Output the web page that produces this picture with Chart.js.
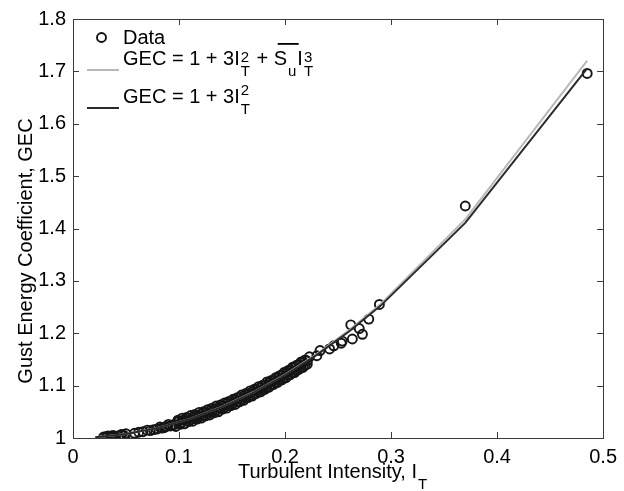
<!DOCTYPE html>
<html>
<head>
<meta charset="utf-8">
<script src="https://cdn.jsdelivr.net/npm/chart.js@4/dist/chart.umd.min.js"></script>
<style>
  html, body { margin: 0; padding: 0; background: #fff; }
  #wrap { width: 624px; height: 491px; position: relative; }
</style>
</head>
<body>
<div id="wrap"><canvas id="gecChart"></canvas></div>
<script>
// =====================
// DATA
// =====================
const dataX = [
  0.029, 0.031, 0.033, 0.035, 0.038, 0.043, 0.046, 0.048, 0.050, 0.058,
  0.066, 0.073, 0.079, 0.084, 0.088, 0.092, 0.096, 0.099, 0.102, 0.104,
  0.107, 0.109, 0.111, 0.113, 0.115, 0.117, 0.119, 0.121, 0.123, 0.125,
  0.127, 0.129, 0.131, 0.133, 0.135, 0.137, 0.139, 0.141, 0.143, 0.145,
  0.147, 0.149, 0.151, 0.153, 0.155, 0.157, 0.159, 0.161, 0.163, 0.165,
  0.167, 0.169, 0.171, 0.173, 0.175, 0.177, 0.179, 0.181, 0.183, 0.185,
  0.187, 0.189, 0.191, 0.193, 0.195, 0.197, 0.199, 0.201, 0.203, 0.205,
  0.207, 0.209, 0.211, 0.213, 0.215, 0.217, 0.219, 0.221,
  0.230, 0.233, 0.242, 0.246, 0.253, 0.254, 0.262, 0.2635, 0.270, 0.273,
  0.279, 0.289, 0.370, 0.485,
  // second pass through the dense band
  0.032, 0.036, 0.040, 0.045, 0.062, 0.070, 0.076, 0.082, 0.086, 0.090, 0.094,
  0.097, 0.099, 0.101, 0.103, 0.105, 0.107, 0.109, 0.111, 0.113, 0.115,
  0.117, 0.119, 0.121, 0.123, 0.125, 0.127, 0.129, 0.131, 0.133, 0.135,
  0.137, 0.139, 0.141, 0.143, 0.145, 0.147, 0.149, 0.151, 0.153, 0.155,
  0.157, 0.159, 0.161, 0.163, 0.165, 0.167, 0.169, 0.171, 0.173, 0.175,
  0.177, 0.179, 0.181, 0.183, 0.185, 0.187, 0.189, 0.191, 0.193, 0.195,
  0.197, 0.199, 0.201, 0.203, 0.205, 0.207, 0.209, 0.211, 0.213, 0.215,
  0.217, 0.219, 0.221, 0.223
];
const dataY = [
  1.002, 1.001, 1.004, 1.002, 1.005, 1.004, 1.007, 1.005, 1.008, 1.009,
  1.012, 1.014, 1.017, 1.019, 1.022, 1.023, 1.026, 1.031, 1.029, 1.034,
  1.033, 1.038, 1.035, 1.040, 1.038, 1.043, 1.041, 1.046, 1.043, 1.049,
  1.046, 1.052, 1.050, 1.055, 1.052, 1.058, 1.056, 1.062, 1.059, 1.066,
  1.063, 1.069, 1.066, 1.073, 1.069, 1.077, 1.073, 1.080, 1.077, 1.084,
  1.081, 1.088, 1.085, 1.092, 1.089, 1.097, 1.093, 1.101, 1.097, 1.106,
  1.102, 1.110, 1.106, 1.115, 1.111, 1.120, 1.115, 1.125, 1.120, 1.130,
  1.125, 1.135, 1.129, 1.140, 1.134, 1.145, 1.139, 1.147,
  1.157, 1.167, 1.170, 1.176, 1.181, 1.185, 1.216, 1.189, 1.209, 1.198,
  1.227, 1.255, 1.443, 1.696,
  1.003, 1.004, 1.003, 1.006, 1.011, 1.015, 1.016, 1.021, 1.020, 1.026, 1.025,
  1.022, 1.034, 1.026, 1.038, 1.027, 1.039, 1.031, 1.043, 1.032, 1.045,
  1.036, 1.049, 1.038, 1.050, 1.042, 1.054, 1.044, 1.057, 1.048, 1.061,
  1.050, 1.063, 1.055, 1.067, 1.057, 1.070, 1.062, 1.074, 1.064, 1.077,
  1.069, 1.082, 1.072, 1.085, 1.077, 1.090, 1.080, 1.093, 1.085, 1.098,
  1.088, 1.101, 1.093, 1.107, 1.097, 1.110, 1.102, 1.115, 1.106, 1.119,
  1.111, 1.125, 1.115, 1.129, 1.121, 1.135, 1.125, 1.139, 1.131, 1.145,
  1.135, 1.149, 1.141, 1.155
];

// fitted curves (vertices)
const fitX = [0.021, 0.05, 0.08, 0.11, 0.14, 0.17, 0.20, 0.23, 0.26, 0.29, 0.37, 0.485];
const fitCubicY = [1.0013, 1.0075, 1.0193, 1.0365, 1.0592, 1.0873, 1.121, 1.1603, 1.2051, 1.2555, 1.4173, 1.7205];
const fitSquareY = [1.0013, 1.0075, 1.0192, 1.0363, 1.0588, 1.0867, 1.120, 1.1587, 1.2028, 1.2523, 1.4107, 1.7057];

const xTicks = [0, 0.1, 0.2, 0.3, 0.4, 0.5];
const yTicks = [1, 1.1, 1.2, 1.3, 1.4, 1.5, 1.6, 1.7, 1.8];

const FONT = "'Liberation Sans', Arial, Helvetica, sans-serif";

function toPoints(xs, ys) {
  return xs.map((v, i) => ({ x: v, y: ys[i] }));
}

// =====================
// TEXT HELPERS (sub / superscripts)
// =====================
function drawRuns(ctx, x, y, runs) {
  let cx = x;
  runs.forEach(r => {
    if (r.t !== undefined) {
      ctx.font = "20px " + FONT;
      const w = ctx.measureText(r.t).width;
      ctx.fillText(r.t, cx, y);
      if (r.over) {
        ctx.fillRect(cx + 4, y - 22, r.overW || w, 1.8);
      }
      cx += w;
    } else {
      ctx.font = "15px " + FONT;
      let w = 0;
      if (r.sup) {
        ctx.fillText(r.sup, cx + 1, y - (r.supUp || 3));
        w = Math.max(w, ctx.measureText(r.sup).width);
      }
      if (r.sub) {
        ctx.fillText(r.sub, cx + 1, y + 11);
        w = Math.max(w, ctx.measureText(r.sub).width);
      }
      cx += w + 2;
    }
  });
  return cx;
}

// =====================
// DECOR PLUGIN: box, inward ticks, legend, titles
// =====================
const decorPlugin = {
  id: "decor",
  afterDraw(chart) {
    const { ctx, chartArea: a, scales } = chart;
    const sx = scales.x, sy = scales.y;
    ctx.save();

    // axes box
    ctx.strokeStyle = "#3a3a3a";
    ctx.lineWidth = 1;
    ctx.strokeRect(Math.round(a.left) + 0.5, Math.round(a.top) + 0.5,
      Math.round(a.right - a.left), Math.round(a.bottom - a.top));

    // inward ticks on all four sides
    const tl = 6;
    ctx.beginPath();
    xTicks.forEach(v => {
      const px = Math.round(sx.getPixelForValue(v)) + 0.5;
      ctx.moveTo(px, a.bottom); ctx.lineTo(px, a.bottom - tl);
      ctx.moveTo(px, a.top); ctx.lineTo(px, a.top + tl);
    });
    yTicks.forEach(v => {
      const py = Math.round(sy.getPixelForValue(v)) + 0.5;
      ctx.moveTo(a.left, py); ctx.lineTo(a.left + tl, py);
      ctx.moveTo(a.right, py); ctx.lineTo(a.right - tl, py);
    });
    ctx.stroke();

    ctx.fillStyle = "#000";
    ctx.textAlign = "left";
    ctx.textBaseline = "alphabetic";

    // legend
    ctx.lineWidth = 1.9;
    ctx.strokeStyle = "#111";
    ctx.beginPath();
    ctx.arc(101.5, 37.5, 4.5, 0, Math.PI * 2);
    ctx.stroke();

    ctx.lineWidth = 2;
    ctx.strokeStyle = "#b8b8b8";
    ctx.beginPath(); ctx.moveTo(87, 70); ctx.lineTo(119, 70); ctx.stroke();
    ctx.strokeStyle = "#2b2b2b";
    ctx.beginPath(); ctx.moveTo(87, 108); ctx.lineTo(119, 108); ctx.stroke();

    drawRuns(ctx, 123, 44, [{ t: "Data" }]);
    drawRuns(ctx, 123, 65, [
      { t: "GEC = 1 + 3I" }, { sup: "2", sub: "T", supUp: 3 },
      { t: " + " }, { t: "S", over: true, overW: 21 }, { sub: "u" },
      { t: "I" }, { sup: "3", sub: "T", supUp: 3 }
    ]);
    drawRuns(ctx, 123, 103, [
      { t: "GEC = 1 + 3I" }, { sup: "2", sub: "T", supUp: 8 }
    ]);

    // x title
    drawRuns(ctx, 238, 478, [{ t: "Turbulent Intensity, I" }, { sub: "T" }]);

    // y title
    ctx.translate(32, 251);
    ctx.rotate(-Math.PI / 2);
    ctx.textAlign = "center";
    ctx.font = "20px " + FONT;
    ctx.fillText("Gust Energy Coefficient, GEC", 0, 0);

    ctx.restore();
  }
};

// =====================
// CHART
// =====================
new Chart(document.getElementById("gecChart"), {
  type: "scatter",
  data: {
    datasets: [
      {
        label: "Data",
        data: toPoints(dataX, dataY),
        showLine: false,
        pointStyle: "circle",
        pointRadius: 4.5,
        pointBorderWidth: 1.9,
        pointBorderColor: "#151515",
        pointBackgroundColor: "rgba(0,0,0,0)",
        order: 3
      },
      {
        label: "cubic",
        data: toPoints(fitX, fitCubicY),
        showLine: true,
        borderColor: "#b8b8b8",
        borderWidth: 2,
        pointRadius: 0,
        tension: 0,
        order: 2
      },
      {
        label: "square",
        data: toPoints(fitX, fitSquareY),
        showLine: true,
        borderColor: "#2b2b2b",
        borderWidth: 2,
        pointRadius: 0,
        tension: 0,
        order: 1
      }
    ]
  },
  options: {
    responsive: true,
    maintainAspectRatio: false,
    animation: false,
    layout: { padding: { top: 15, right: 14, left: 0, bottom: 0 } },
    plugins: {
      legend: { display: false },
      tooltip: { enabled: false }
    },
    scales: {
      x: {
        type: "linear",
        min: 0,
        max: 0.5,
        afterFit: s => { s.height = 53; },
        afterBuildTicks: s => { s.ticks = xTicks.map(v => ({ value: v })); },
        grid: { display: false, drawTicks: false },
        border: { display: false },
        ticks: {
          padding: 7,
          color: "#000",
          font: { family: FONT, size: 20 },
          maxRotation: 0,
          callback: v => String(+v.toFixed(2))
        }
      },
      y: {
        type: "linear",
        min: 1,
        max: 1.8,
        afterFit: s => { s.width = 73; },
        afterBuildTicks: s => { s.ticks = yTicks.map(v => ({ value: v })); },
        grid: { display: false, drawTicks: false },
        border: { display: false },
        ticks: {
          padding: 7,
          color: "#000",
          font: { family: FONT, size: 20 },
          callback: v => String(+v.toFixed(2))
        }
      }
    }
  },
  plugins: [decorPlugin]
});
</script>
</body>
</html>
